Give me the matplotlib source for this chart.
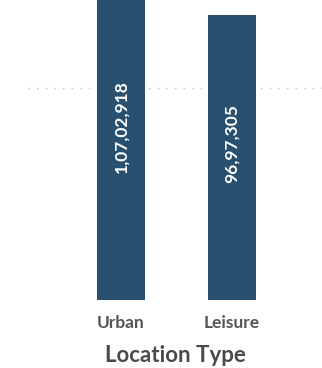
import matplotlib.pyplot as plt

# location type totals
categories = ['Urban', 'Leisure']
values = [10702918, 9697305]
value_labels = ['1,07,02,918', '96,97,305']
grid_value = 7200000

bar_color = '#29506f'

fig = plt.figure(figsize=(3.22, 3.68), dpi=100)
ax = fig.add_axes([28 / 322, 68 / 368, 294 / 322, 300 / 368])

x = list(range(len(categories)))
ax.bar(x, values, width=0.43, color=bar_color, zorder=2)

# value labels, rotated, inside the bars
for xi, v, lab in zip(x, values, value_labels):
    ax.text(xi, v * 0.55, lab, rotation=90, ha='center', va='center',
            color='white', fontsize=12.5, fontweight='bold', family='Lato', zorder=3)

ax.set_xlim(-0.838, 1.81)
ax.set_ylim(0, 10207690)

ax.set_yticks([grid_value])
ax.yaxis.grid(True, color='#c8c8c8', linestyle=(0, (1.2, 5)), linewidth=1, zorder=1)
ax.tick_params(axis='y', length=0, labelleft=False)

ax.set_xticks(x)
ax.set_xticklabels(categories, fontsize=12.5, color='#555555', family='Lato', fontweight='bold')
ax.tick_params(axis='x', length=0, pad=11)
ax.set_xlabel('Location Type', fontsize=16, color='#4a4a4a', family='Lato',
              fontweight='bold', labelpad=10)

for s in ax.spines.values():
    s.set_visible(False)

plt.savefig('out.png', dpi=100)
